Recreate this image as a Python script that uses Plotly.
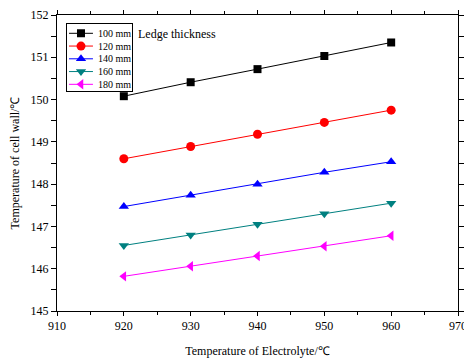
import plotly.graph_objects as go

electrolyte_temp = [920, 930, 940, 950, 960]
series_names = ["100 mm", "120 mm", "140 mm", "160 mm", "180 mm"]
wall_100 = [150.08, 150.41, 150.72, 151.03, 151.35]
wall_120 = [148.60, 148.89, 149.18, 149.46, 149.75]
wall_140 = [147.47, 147.74, 148.00, 148.28, 148.53]
wall_160 = [146.55, 146.80, 147.05, 147.30, 147.55]
wall_180 = [145.82, 146.06, 146.30, 146.53, 146.78]
series_values = [wall_100, wall_120, wall_140, wall_160, wall_180]

colors = ["#000000", "#FF0000", "#0000FF", "#008080", "#FF00FF"]
symbols = ["square", "circle", "triangle-up", "triangle-down", "triangle-left"]
sizes = [8, 9, 9, 9, 9]

FONT = "Liberation Serif"
fig = go.Figure()

for name, vals, c, s, sz in zip(series_names, series_values, colors, symbols, sizes):
    fig.add_trace(go.Scatter(
        x=electrolyte_temp, y=vals, name=name, mode="lines+markers",
        line=dict(color=c, width=1),
        marker=dict(symbol=s, size=sz, color=c),
        showlegend=False,
    ))

# custom legend box (inset axes)
for i, (name, c, s, sz) in enumerate(zip(series_names, colors, symbols, sizes)):
    fig.add_trace(go.Scatter(x=[2, 26], y=[i, i], mode="lines", xaxis="x3", yaxis="y3",
                             line=dict(color=c, width=1), showlegend=False, hoverinfo="skip"))
    fig.add_trace(go.Scatter(x=[14], y=[i], mode="markers", xaxis="x3", yaxis="y3",
                             marker=dict(symbol=s, size=sz, color=c),
                             showlegend=False, hoverinfo="skip"))
    fig.add_annotation(x=29.5, y=i, xref="x3", yref="y3", text=name, showarrow=False,
                       xanchor="left", yanchor="middle",
                       font=dict(family=FONT, size=10, color="black"))

fig.add_annotation(x=0.197, y=0.936, xref="paper", yref="paper", text="Ledge thickness",
                   showarrow=False, xanchor="left", yanchor="middle",
                   font=dict(family=FONT, size=12, color="black"))

axis_common = dict(showline=True, linecolor="black", linewidth=1, showgrid=False,
                   zeroline=False, tickcolor="black", tickwidth=1, automargin=False,
                   mirror="allticks", ticklabeloverflow="allow")

fig.update_layout(
    width=464, height=361,
    margin=dict(l=57, r=6, t=15, b=50),
    paper_bgcolor="white", plot_bgcolor="white",
    font=dict(family=FONT, size=12, color="black"),
    showlegend=False,
    xaxis=dict(range=[910, 970], dtick=10, ticks="outside", ticklen=4,
               minor=dict(dtick=5, ticks="outside", ticklen=3, tickcolor="black"),
               title=dict(text="Temperature of Electrolyte/℃", standoff=14,
                          font=dict(family=FONT, size=12)),
               tickfont=dict(family=FONT, size=12), **axis_common),
    yaxis=dict(range=[145, 152], dtick=1, ticks="outside", ticklen=5,
               minor=dict(dtick=0.5, ticks="outside", ticklen=5, tickcolor="black"),
               title=dict(text="Temperature of cell wall/℃", standoff=8,
                          font=dict(family=FONT, size=12)),
               tickfont=dict(family=FONT, size=12), **axis_common),
    xaxis3=dict(domain=[0.025, 0.186], anchor="y3", range=[0, 64.7], showline=True,
                mirror=True, linecolor="black", linewidth=1, showgrid=False,
                zeroline=False, showticklabels=False, ticks="", fixedrange=True),
    yaxis3=dict(domain=[0.743, 0.9696], anchor="x3", range=[4.53, -0.73], showline=True,
                mirror=True, linecolor="black", linewidth=1, showgrid=False,
                zeroline=False, showticklabels=False, ticks="", fixedrange=True),
)

fig.write_html("out.html", config={"displayModeBar": False},
               post_script="document.body.style.margin='0';")
